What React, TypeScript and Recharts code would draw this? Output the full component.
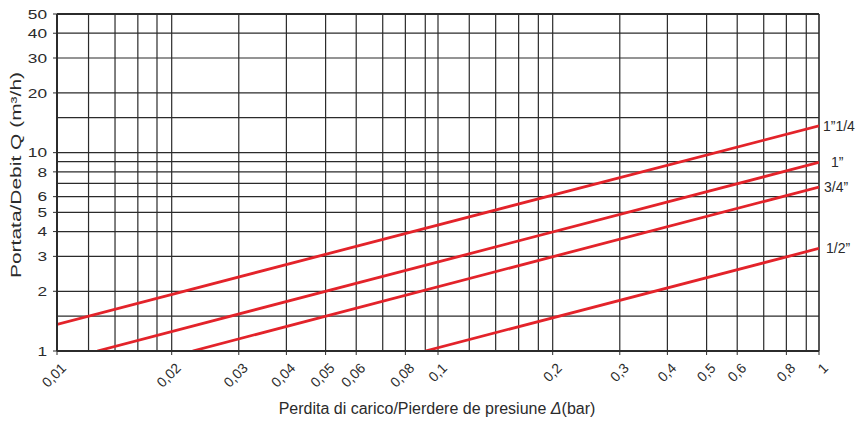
import React from 'react';
import { LineChart, Line, XAxis, YAxis, ReferenceLine } from 'recharts';

// pipe sizes and the two ends of each (straight on log-log) curve
const sizes = ['1”1/4', '1”', '3/4”', '1/2”'];
const startDp = [0.01, 0.01276, 0.0227, 0.0926];
const startQ = [1.363, 1, 1, 1];
const endDp = [1, 1, 1, 1];
const endQ = [13.66, 8.93, 6.71, 3.29];

// labelled ticks
const xTickValues = [0.01, 0.02, 0.03, 0.04, 0.0507, 0.061, 0.0821, 0.1, 0.2, 0.3, 0.4, 0.507, 0.61, 0.821, 1];
const xTickLabels = ['0,01', '0,02', '0,03', '0,04', '0,05', '0,06', '0,08', '0,1', '0,2', '0,3', '0,4', '0,5', '0,6', '0,8', '1'];
const yTickValues = [1, 2, 3, 4, 5, 6, 8, 10, 20, 30, 40, 50];

// grid lines (as drawn in the picture)
const xGrid = [
    0.0121, 0.0142, 0.0163, 0.0183, 0.02, 0.03, 0.04, 0.0507, 0.061, 0.0716, 0.0821, 0.0926,
    0.1, 0.1208, 0.1417, 0.1628, 0.1834, 0.2, 0.3, 0.4, 0.507, 0.61, 0.716, 0.821, 0.926,
];
const yGrid = [1.5, 2, 3, 4, 5, 6, 7, 8, 9, 10, 15, 20, 30, 40];

const RED = '#e3232a';
const INK = '#2b2b2b';
const FONT = '"Liberation Sans", Arial, sans-serif';

// label offsets to the right of the line ends
const labelDx = [4, 12, 5, 7];

const XTick = ({ x, y, payload }: any) => {
    const label = xTickLabels[xTickValues.indexOf(payload.value)];
    const ax = x + 10;
    const ay = y + 14;
    return (
        <text x={ax} y={ay} textAnchor="end" fontSize={14} fill={INK} fontFamily={FONT}
            transform={`rotate(-45 ${ax} ${ay})`}>
            {label}
        </text>
    );
};

// the y labels in the picture are drawn horizontally stretched
const YTick = ({ x, y, payload }: any) => (
    <text x={x} y={y} dy="0.36em" textAnchor="end" fontSize={13} fill={INK} fontFamily={FONT}
        transform={`translate(${x} 0) scale(1.33 1) translate(${-x} 0)`}>
        {payload.value}
    </text>
);

export default function App() {
    const series = sizes.map((name, i) => ({
        name,
        data: [
            { dp: startDp[i], q: startQ[i] },
            { dp: endDp[i], q: endQ[i] },
        ],
    }));

    return (
        <div style={{ position: 'absolute', left: 0, top: 0, width: 858, height: 423, background: '#fff', fontFamily: FONT }}>
            <LineChart width={858} height={423} margin={{ top: 14, right: 39, bottom: 12, left: 7 }}>
                <XAxis
                    type="number"
                    dataKey="dp"
                    scale="log"
                    domain={[0.01, 1]}
                    ticks={xTickValues}
                    interval={0}
                    allowDataOverflow
                    height={60}
                    tickSize={4}
                    tickMargin={0}
                    tick={<XTick />}
                    axisLine={{ stroke: INK, strokeWidth: 2 }}
                    tickLine={{ stroke: INK }}
                />
                <YAxis
                    type="number"
                    dataKey="q"
                    scale="log"
                    domain={[1, 50]}
                    ticks={yTickValues}
                    interval={0}
                    allowDataOverflow
                    width={50}
                    tickSize={4}
                    tickMargin={6}
                    tick={<YTick />}
                    axisLine={{ stroke: INK, strokeWidth: 2 }}
                    tickLine={{ stroke: INK }}
                />
                {xGrid.map((v) => (
                    <ReferenceLine key={'gx' + v} x={v} stroke={INK} strokeWidth={1.2} />
                ))}
                {yGrid.map((v) => (
                    <ReferenceLine key={'gy' + v} y={v} stroke={INK} strokeWidth={1.2} />
                ))}
                <ReferenceLine x={1} stroke={INK} strokeWidth={1.6} />
                <ReferenceLine y={50} stroke={INK} strokeWidth={2} />
                {series.map((s, i) => (
                    <Line
                        key={s.name}
                        data={s.data}
                        dataKey="q"
                        stroke={RED}
                        strokeWidth={2.8}
                        dot={false}
                        isAnimationActive={false}
                        label={(p: any) =>
                            p.index === 1 ? (
                                <text key="lbl" x={p.x + labelDx[i]} y={p.y} dy="0.35em" fontSize={14} fill={INK} fontFamily={FONT}>
                                    {s.name}
                                </text>
                            ) : null
                        }
                    />
                ))}
            </LineChart>
            <svg width={858} height={423} style={{ position: 'absolute', left: 0, top: 0, pointerEvents: 'none' }}>
                <text x={437} y={414} textAnchor="middle" fontSize={16} fill={INK} fontFamily={FONT}>
                    Perdita di carico/Pierdere de presiune <tspan fontStyle="italic">Δ</tspan>(bar)
                </text>
                <text x={21} y={175} textAnchor="middle" fontSize={14} fill={INK} fontFamily={FONT}
                    textLength={206} lengthAdjust="spacingAndGlyphs"
                    transform="rotate(-90 21 175)">
                    Portata/Debit Q (m³/h)
                </text>
            </svg>
        </div>
    );
}
